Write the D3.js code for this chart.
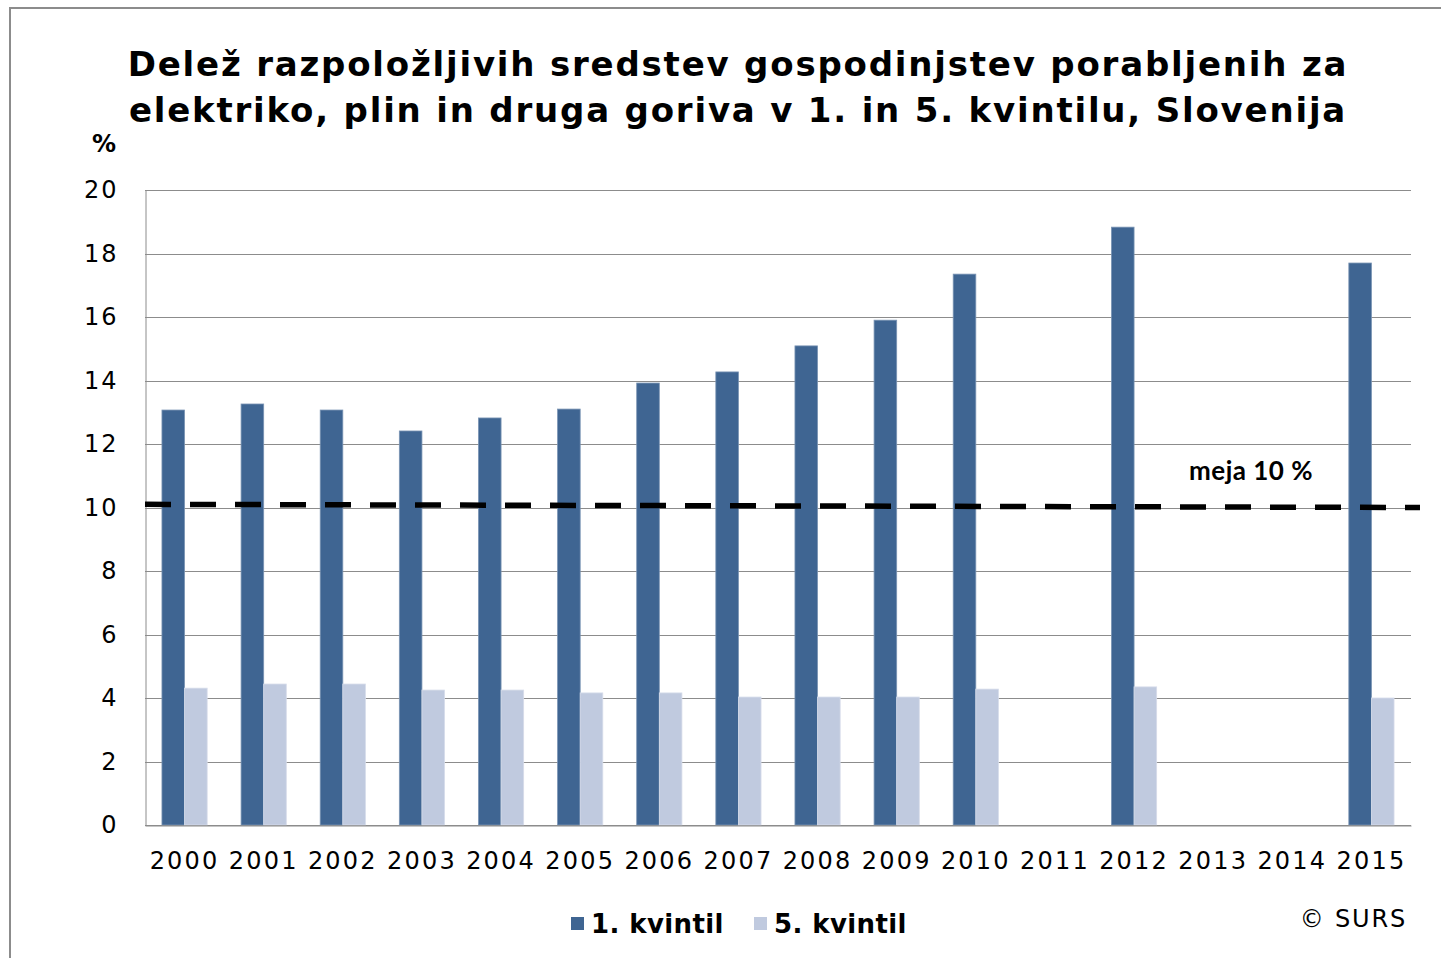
<!DOCTYPE html>
<html>
<head>
<meta charset="utf-8">
<script src="https://cdn.jsdelivr.net/npm/d3@7"></script>
<style>
  body { margin: 0; background: #fff; }
  svg { display: block; }
</style>
</head>
<body>
<div id="chart"></div>
<script>
const years = ['2000', '2001', '2002', '2003', '2004', '2005', '2006', '2007',
               '2008', '2009', '2010', '2011', '2012', '2013', '2014', '2015'];
const quintile1 = [13.07, 13.26, 13.07, 12.41, 12.82, 13.1, 13.92, 14.27,
                   15.09, 15.9, 17.35, null, 18.83, null, null, 17.7];
const quintile5 = [4.31, 4.44, 4.44, 4.25, 4.25, 4.16, 4.16, 4.03,
                   4.03, 4.03, 4.28, null, 4.35, null, null, 4.0];
const seriesNames = ['1. kvintil', '5. kvintil'];
const yTicks = [0, 2, 4, 6, 8, 10, 12, 14, 16, 18, 20];
const limitValues = [10.1, 10.0];  // hand-drawn line, start / end

const width = 1441, height = 958;
const colors = ['#3f6592', '#c0cadf'];
const font = 'DejaVu Sans, Verdana, sans-serif';

const svg = d3.select('#chart').append('svg')
    .attr('width', width)
    .attr('height', height);

// outer frame
svg.append('rect')
    .attr('x', 10).attr('y', 8)
    .attr('width', 1445).attr('height', 960)
    .attr('fill', 'none')
    .attr('stroke', '#8c8c8c')
    .attr('stroke-width', 2);

// title
const title = svg.append('text')
    .attr('text-anchor', 'middle')
    .attr('font-family', font)
    .attr('font-weight', 'bold')
    .attr('font-size', 34)
    .attr('letter-spacing', 1.8)
    .attr('fill', '#000');
title.append('tspan').attr('x', 738).attr('y', 76)
    .text('Delež razpoložljivih sredstev gospodinjstev porabljenih za');
title.append('tspan').attr('x', 738).attr('y', 122)
    .text('elektriko, plin in druga goriva v 1. in 5. kvintilu, Slovenija');

const plot = {left: 145, right: 1411, top: 190, bottom: 825};

const x = d3.scaleBand()
    .domain(years)
    .range([plot.left, plot.right])
    .paddingInner(0)
    .paddingOuter(0);

const y = d3.scaleLinear()
    .domain([0, 20])
    .range([plot.bottom, plot.top]);

const barW = x.bandwidth() / 3.5;

// gridlines
svg.append('g')
    .selectAll('line')
    .data(yTicks)
    .join('line')
    .attr('x1', plot.left).attr('x2', plot.right)
    .attr('y1', d => Math.round(y(d)) + 0.5)
    .attr('y2', d => Math.round(y(d)) + 0.5)
    .attr('stroke', '#8c8c8c')
    .attr('stroke-width', 1);

// y axis
const yAxis = svg.append('g')
    .attr('transform', `translate(${plot.left + 0.5},0)`)
    .call(d3.axisLeft(y).tickValues(yTicks).tickSize(0).tickPadding(27));
yAxis.select('.domain').attr('stroke', '#8c8c8c');
yAxis.selectAll('text')
    .attr('font-family', font)
    .attr('font-size', 24)
    .attr('letter-spacing', 2)
    .attr('fill', '#000');

svg.append('text')
    .attr('x', 104).attr('y', 152)
    .attr('text-anchor', 'middle')
    .attr('font-family', font)
    .attr('font-weight', 'bold')
    .attr('font-size', 24)
    .text('%');

// bars
const series = [quintile1, quintile5];
series.forEach((vals, si) => {
  svg.append('g')
      .selectAll('rect')
      .data(years.map((yr, i) => ({yr, v: vals[i]})).filter(d => d.v != null))
      .join('rect')
      .attr('x', d => x(d.yr) + x.bandwidth() / 2 - barW + si * barW)
      .attr('y', d => y(d.v))
      .attr('width', barW)
      .attr('height', d => y(0) - y(d.v))
      .attr('fill', colors[si])
      .attr('stroke', si === 0 ? '#7a94b4' : '#d6dcea')
      .attr('stroke-width', 0.8);
});

// x axis
const xAxis = svg.append('g')
    .attr('transform', `translate(0,${plot.bottom + 0.5})`)
    .call(d3.axisBottom(x).tickSize(0).tickPadding(26));
xAxis.select('.domain').attr('stroke', '#8c8c8c');
xAxis.selectAll('text')
    .attr('font-family', font)
    .attr('font-size', 24)
    .attr('letter-spacing', 2.2)
    .attr('fill', '#000');

// 10 % limit line
svg.append('line')
    .attr('x1', plot.left).attr('x2', 1420)
    .attr('y1', y(limitValues[0]))
    .attr('y2', y(limitValues[1]))
    .attr('stroke', '#000')
    .attr('stroke-width', 5.5)
    .attr('stroke-dasharray', '26 19');

svg.append('text')
    .attr('x', 1251).attr('y', 480)
    .attr('text-anchor', 'middle')
    .attr('font-family', 'Lato, Open Sans, sans-serif')
    .attr('font-weight', 'bold')
    .attr('font-size', 26)
    .attr('letter-spacing', 0.5)
    .text('meja 10 %');

// legend
const legend = svg.append('g');
const legendX = [571, 754];
seriesNames.forEach((name, i) => {
  legend.append('rect')
      .attr('x', legendX[i]).attr('y', 917)
      .attr('width', 13).attr('height', 13)
      .attr('fill', colors[i]);
  legend.append('text')
      .attr('x', legendX[i] + 20).attr('y', 933)
      .attr('font-family', font)
      .attr('font-weight', 'bold')
      .attr('font-size', 26)
      .attr('letter-spacing', 0.4)
      .text(name);
});

svg.append('text')
    .attr('x', 1407).attr('y', 927)
    .attr('text-anchor', 'end')
    .attr('font-family', font)
    .attr('font-size', 24)
    .attr('letter-spacing', 1.8)
    .text('© SURS');
</script>
</body>
</html>
